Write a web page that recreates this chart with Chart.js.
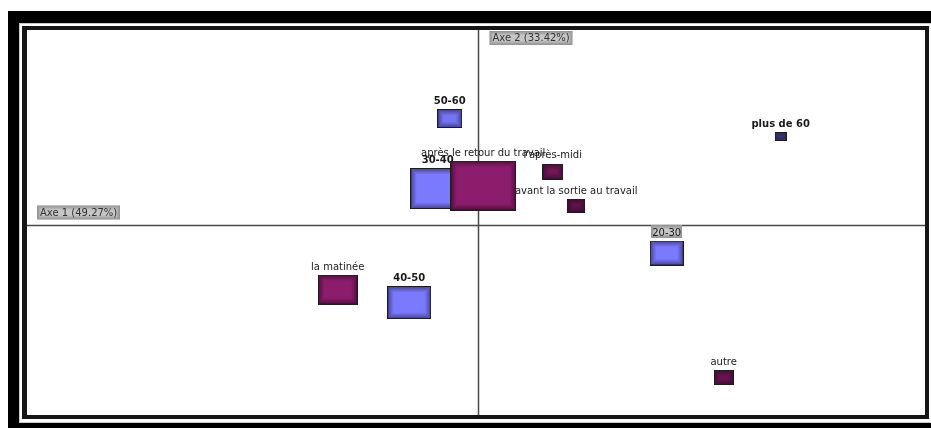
<!DOCTYPE html>
<html>
<head>
<meta charset="utf-8">
<script src="https://cdn.jsdelivr.net/npm/chart.js@4"></script>
<style>
  html, body { margin: 0; padding: 0; background: #fff; width: 931px; height: 428px; overflow: hidden; }
  .abs { position: absolute; }
  #outer { left: 8px; top: 11px; width: 923px; height: 417px; background: #000; }
  #greyline { left: 19px; top: 23px; width: 912px; height: 400px; background: #c8c8c8; }
  #whitebox { left: 20px; top: 24px; width: 911px; height: 398px; background: #fff; }
  #frame { left: 22px; top: 26px; width: 907px; height: 393px; background: #151515; }
  #chart { left: 27px; top: 30px; background: #fff; }
</style>
</head>
<body>
<div id="outer" class="abs"></div>
<div id="greyline" class="abs"></div>
<div id="whitebox" class="abs"></div>
<div id="frame" class="abs"></div>
<canvas id="chart" class="abs" width="898" height="385"></canvas>
<script>
// ---- Data (factor map coordinates and counts) ----
const momentLabels = ["après le retour du travail", "l'après-midi", "avant la sortie au travail", "la matinée", "autre"];
const momentX = [0.055, 0.75, 0.985, -1.40, 2.46];
const momentY = [0.39, 0.53, 0.19, -0.65, -1.53];
const momentN = [122, 12, 9, 44, 11];

const ageLabels = ["50-60", "30-40", "40-50", "plus de 60", "20-30"];
const ageX = [-0.28, -0.40, -0.685, 3.03, 1.89];
const ageY = [1.06, 0.36, -0.78, 0.88, -0.285];
const ageN = [18, 84, 55, 4, 32];

const axisTitles = ["Axe 1 (49.27%)", "Axe 2 (33.42%)"];
const xRange = [-4.507, 4.473];
const yRange = [-1.905, 1.945];
const highlighted = ["20-30"];

// ---- Rendering helpers ----
const FONT = '"DejaVu Sans", Verdana, sans-serif';
const SIZE_K = 4.5, RATIO = 1.33;
function rectSize(n) {
  const h = SIZE_K * Math.sqrt(n);
  return [Math.max(10, Math.round(h * RATIO)), Math.max(9, Math.round(h))];
}
function mix(a, b, t) {
  return 'rgb(' + a.map((v, i) => Math.round(v + (b[i] - v) * t)).join(',') + ')';
}
function makeRect(w, h, light, dark) {
  const c = document.createElement('canvas');
  c.width = w; c.height = h;
  const g = c.getContext('2d');
  const t = Math.max(0, Math.min(1, (20 - h) / 11)) * 0.85;
  g.fillStyle = mix(light, dark, t);
  g.fillRect(0, 0, w, h);
  const steps = 6;
  for (let i = 0; i < steps; i++) {
    if (w - 2 * i - 1 <= 0 || h - 2 * i - 1 <= 0) break;
    g.strokeStyle = 'rgba(' + dark.join(',') + ',' + ((steps - i) / steps * 0.65).toFixed(3) + ')';
    g.lineWidth = 1;
    g.strokeRect(i + 0.5, i + 0.5, w - 2 * i - 1, h - 2 * i - 1);
  }
  g.strokeStyle = '#1c1c1c';
  g.strokeRect(0.5, 0.5, w - 1, h - 1);
  return c;
}
const momentImgs = momentN.map(n => { const s = rectSize(n); return makeRect(s[0], s[1], [140, 29, 108], [50, 8, 40]); });
const ageImgs = ageN.map(n => { const s = rectSize(n); return makeRect(s[0], s[1], [122, 122, 255], [40, 40, 95]); });

function greyBox(ctx, x, y, w, h) {
  ctx.fillStyle = '#c6c6c6';
  ctx.fillRect(x, y, w, h);
  for (let i = 0; i < 4; i++) {
    ctx.strokeStyle = 'rgba(90,90,90,' + ((4 - i) / 4 * 0.45).toFixed(3) + ')';
    ctx.lineWidth = 1;
    ctx.strokeRect(x + i + 0.5, y + i + 0.5, w - 2 * i - 1, h - 2 * i - 1);
  }
}

const decorPlugin = {
  id: 'decor',
  beforeDatasetsDraw(chart) {
    const ctx = chart.ctx, area = chart.chartArea;
    const xs = chart.scales.x, ys = chart.scales.y;
    const x0 = Math.round(xs.getPixelForValue(0)) + 0.5;
    const y0 = Math.round(ys.getPixelForValue(0)) + 0.5;
    ctx.save();
    // axis lines
    ctx.strokeStyle = '#4a4a4a';
    ctx.lineWidth = 1.5;
    ctx.beginPath();
    ctx.moveTo(area.left, y0); ctx.lineTo(area.right, y0);
    ctx.moveTo(x0, area.top); ctx.lineTo(x0, area.bottom);
    ctx.stroke();
    // axis titles
    ctx.font = '10px ' + FONT;
    ctx.textBaseline = 'middle';
    ctx.textAlign = 'left';
    let tw = ctx.measureText(axisTitles[0]).width;
    let bx = area.left + 10, by = y0 - 20;
    greyBox(ctx, bx, by, Math.round(tw + 6), 14);
    ctx.fillStyle = '#333';
    ctx.fillText(axisTitles[0], bx + 3, by + 7.5);
    tw = ctx.measureText(axisTitles[1]).width;
    bx = x0 + 11; by = area.top + 1;
    greyBox(ctx, bx, by, Math.round(tw + 6), 14);
    ctx.fillStyle = '#333';
    ctx.fillText(axisTitles[1], bx + 3, by + 7.5);
    // point labels
    ctx.textAlign = 'center';
    ctx.textBaseline = 'alphabetic';
    chart.data.datasets.forEach((ds, di) => {
      const meta = chart.getDatasetMeta(di);
      meta.data.forEach((pt, i) => {
        const lbl = ds.pointLabels[i];
        const s = rectSize(ds.counts[i]);
        const base = Math.round(pt.y - s[1] / 2 - 5);
        const hi = highlighted.includes(lbl);
        ctx.font = (ds.bold && !hi ? 'bold ' : '') + '10px ' + FONT;
        if (hi) {
          const w = ctx.measureText(lbl).width;
          greyBox(ctx, Math.round(pt.x - w / 2 - 1), base - 11, Math.round(w + 2), 13);
        }
        ctx.fillStyle = '#1a1a1a';
        ctx.fillText(lbl, pt.x, base);
      });
    });
    ctx.restore();
  }
};

new Chart(document.getElementById('chart'), {
  type: 'scatter',
  data: {
    datasets: [
      {
        label: 'moments',
        data: momentX.map((x, i) => ({ x: x, y: momentY[i] })),
        pointLabels: momentLabels,
        counts: momentN,
        bold: false,
        pointStyle: (c) => momentImgs[c.dataIndex],
        pointRadius: 5
      },
      {
        label: 'âges',
        data: ageX.map((x, i) => ({ x: x, y: ageY[i] })),
        pointLabels: ageLabels,
        counts: ageN,
        bold: true,
        pointStyle: (c) => ageImgs[c.dataIndex],
        pointRadius: 5
      }
    ]
  },
  options: {
    responsive: false,
    animation: false,
    events: [],
    layout: { padding: 0, autoPadding: false },
    plugins: { legend: { display: false }, tooltip: { enabled: false } },
    scales: {
      x: { type: 'linear', min: xRange[0], max: xRange[1], display: false },
      y: { type: 'linear', min: yRange[0], max: yRange[1], display: false }
    }
  },
  plugins: [decorPlugin]
});
</script>
</body>
</html>
